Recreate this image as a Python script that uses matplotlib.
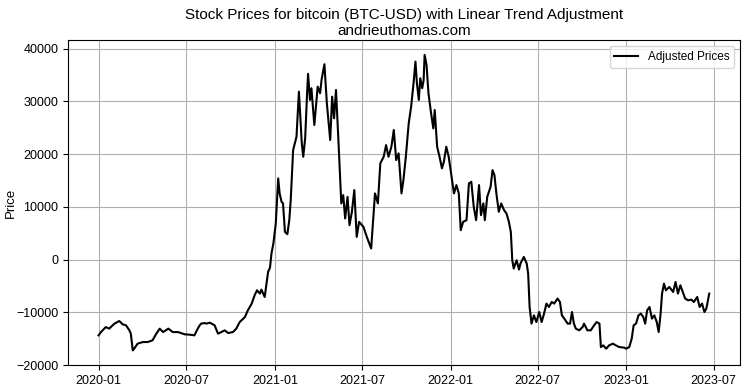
import numpy as np
import pandas as pd
import matplotlib
matplotlib.use("Agg")
import matplotlib.pyplot as plt


# values (BTC-USD minus its linear trend)
dates = [
    "2020-01-01", "2020-01-06", "2020-01-16", "2020-01-23", "2020-02-03", "2020-02-13",
    "2020-02-20", "2020-02-27", "2020-03-05", "2020-03-08", "2020-03-12", "2020-03-15",
    "2020-03-22", "2020-04-02", "2020-04-12", "2020-04-22", "2020-04-30", "2020-05-07",
    "2020-05-14", "2020-05-25", "2020-06-03", "2020-06-14", "2020-06-28", "2020-07-08",
    "2020-07-18", "2020-07-25", "2020-07-29", "2020-08-01", "2020-08-08", "2020-08-12",
    "2020-08-19", "2020-08-29", "2020-09-05", "2020-09-12", "2020-09-19", "2020-09-26",
    "2020-10-06", "2020-10-13", "2020-10-20", "2020-10-31", "2020-11-06", "2020-11-14",
    "2020-11-20", "2020-11-25", "2020-12-01", "2020-12-04", "2020-12-11", "2020-12-18",
    "2020-12-22", "2020-12-25", "2020-12-29", "2021-01-03", "2021-01-08", "2021-01-11",
    "2021-01-15", "2021-01-18", "2021-01-22", "2021-01-27", "2021-01-31", "2021-02-03",
    "2021-02-08", "2021-02-15", "2021-02-20", "2021-02-26", "2021-03-01", "2021-03-05",
    "2021-03-09", "2021-03-11", "2021-03-15", "2021-03-18", "2021-03-24", "2021-03-31",
    "2021-04-05", "2021-04-08", "2021-04-14", "2021-04-19", "2021-04-26", "2021-04-30",
    "2021-05-04", "2021-05-08", "2021-05-13", "2021-05-19", "2021-05-23", "2021-05-27",
    "2021-06-01", "2021-06-05", "2021-06-10", "2021-06-15", "2021-06-20", "2021-06-25",
    "2021-07-04", "2021-07-11", "2021-07-20", "2021-07-28", "2021-08-03", "2021-08-08",
    "2021-08-15", "2021-08-20", "2021-08-25", "2021-08-31", "2021-09-05", "2021-09-10",
    "2021-09-15", "2021-09-21", "2021-09-25", "2021-09-30", "2021-10-06", "2021-10-11",
    "2021-10-16", "2021-10-20", "2021-10-23", "2021-10-27", "2021-10-30", "2021-11-03",
    "2021-11-06", "2021-11-08", "2021-11-12", "2021-11-16", "2021-11-21", "2021-11-26",
    "2021-11-29", "2021-12-04", "2021-12-09", "2021-12-14", "2021-12-18", "2021-12-23",
    "2021-12-28", "2022-01-01", "2022-01-08", "2022-01-13", "2022-01-18", "2022-01-22",
    "2022-01-27", "2022-02-03", "2022-02-08", "2022-02-13", "2022-02-18", "2022-02-23",
    "2022-03-01", "2022-03-05", "2022-03-10", "2022-03-13", "2022-03-18", "2022-03-25",
    "2022-03-29", "2022-04-02", "2022-04-06", "2022-04-11", "2022-04-16", "2022-04-22",
    "2022-04-27", "2022-05-02", "2022-05-06", "2022-05-09", "2022-05-12", "2022-05-18",
    "2022-05-23", "2022-05-26", "2022-06-02", "2022-06-08", "2022-06-11", "2022-06-14",
    "2022-06-18", "2022-06-23", "2022-06-28", "2022-07-04", "2022-07-09", "2022-07-14",
    "2022-07-19", "2022-07-24", "2022-07-30", "2022-08-04", "2022-08-11", "2022-08-16",
    "2022-08-20", "2022-08-25", "2022-09-01", "2022-09-06", "2022-09-10", "2022-09-14",
    "2022-09-18", "2022-09-25", "2022-10-02", "2022-10-05", "2022-10-12", "2022-10-19",
    "2022-10-26", "2022-10-31", "2022-11-06", "2022-11-09", "2022-11-14", "2022-11-20",
    "2022-11-26", "2022-12-04", "2022-12-10", "2022-12-17", "2022-12-28", "2022-12-31",
    "2023-01-07", "2023-01-12", "2023-01-16", "2023-01-21", "2023-01-26", "2023-01-31",
    "2023-02-05", "2023-02-09", "2023-02-13", "2023-02-18", "2023-02-23", "2023-02-28",
    "2023-03-05", "2023-03-09", "2023-03-13", "2023-03-16", "2023-03-20", "2023-03-24",
    "2023-03-31", "2023-04-08", "2023-04-13", "2023-04-18", "2023-04-23", "2023-04-28",
    "2023-05-03", "2023-05-09", "2023-05-16", "2023-05-21", "2023-05-28", "2023-06-02",
    "2023-06-07", "2023-06-12", "2023-06-16", "2023-06-18", "2023-06-22",
]

adjusted_prices = [
    -14370, -13750, -12800, -13100, -12150, -11650,
    -12280, -12470, -13420, -14050, -17220, -16900,
    -15950, -15640, -15640, -15320, -14050, -13100,
    -13750, -13100, -13750, -13750, -14180, -14240,
    -14370, -13100, -12470, -12150, -12040, -12150,
    -11960, -12470, -14050, -13750, -13420, -13930,
    -13750, -13100, -11850, -10900, -9630, -8350,
    -6780, -5830, -6460, -5700, -7100, -2350,
    -1520, 1140, 3040, 6840, 15380, 12530,
    10940, 10630, 5240, 4800, 7460, 11260,
    20750, 23280, 31820, 22020, 19480, 23000,
    31520, 35200, 30250, 32470, 25500, 32770,
    31520, 34040, 37020, 29620, 22650, 30870,
    26770, 32140, 22650, 10630, 12210, 7780,
    11880, 6510, 9040, 13160, 4290, 7140,
    6190, 4290, 2090, 12530, 10630, 18230,
    19480, 21700, 19480, 21380, 24550, 18850,
    20130, 12530, 15060, 19480, 25820, 28970,
    33400, 37520, 33420, 30250, 34360, 32470,
    34040, 38790, 36890, 31520, 28020, 24870,
    28350, 21380, 19480, 17280, 18530, 21380,
    19480, 16950, 12530, 14110, 12530, 5560,
    7140, 7460, 14430, 14730, 9990, 7460,
    14110, 8410, 10630, 7460, 11880, 13790,
    16950, 16000, 12530, 9040, 10630, 9360,
    8730, 7140, 5240, -130, -1710, -130,
    -1900, -760, 490, -760, -2660, -9000,
    -12150, -10580, -11850, -9950, -11850, -10250,
    -8350, -9000, -8050, -8350, -7400, -8050,
    -10580, -11200, -12150, -12150, -9950, -12150,
    -13100, -13420, -12800, -12150, -13420, -13420,
    -12470, -11850, -12150, -16590, -16270, -16900,
    -16270, -15950, -16270, -16590, -16710, -16900,
    -16590, -15000, -12470, -12150, -10580, -10250,
    -10900, -12150, -9630, -9000, -11200, -10580,
    -11850, -13750, -10250, -6460, -4560, -5830,
    -5200, -6150, -4250, -6460, -4880, -6150,
    -7400, -7730, -7600, -8050, -7100, -9000,
    -8350, -9950, -9300, -8350, -6460,
]

TITLE = "Stock Prices for bitcoin (BTC-USD) with Linear Trend Adjustment\nandrieuthomas.com"

plt.rcParams["font.family"] = ["Liberation Sans", "DejaVu Sans"]

x = pd.to_datetime(dates)
y = np.array(adjusted_prices)

fig = plt.figure(figsize=(7.45, 3.9), dpi=100)
ax = fig.add_axes([0.0913, 0.064, 0.9017, 0.833])

ax.plot(x, y, color="black", linewidth=1.5, label="Adjusted Prices")
ax.set_ylim(-20000, 41580)
ax.set_yticks(np.arange(-20000, 40001, 10000))
ax.set_ylabel("Price", fontsize=9.5)
ax.yaxis.set_label_coords(-0.076, 0.5)
ax.grid(True, color="#b0b0b0", linewidth=0.8)
ax.tick_params(labelsize=9)
ax.legend(loc="upper right", fontsize=8.5)
ax.set_title(TITLE, fontsize=11, pad=4, linespacing=1.15)

plt.savefig("out.png", dpi=100)
plt.close()
